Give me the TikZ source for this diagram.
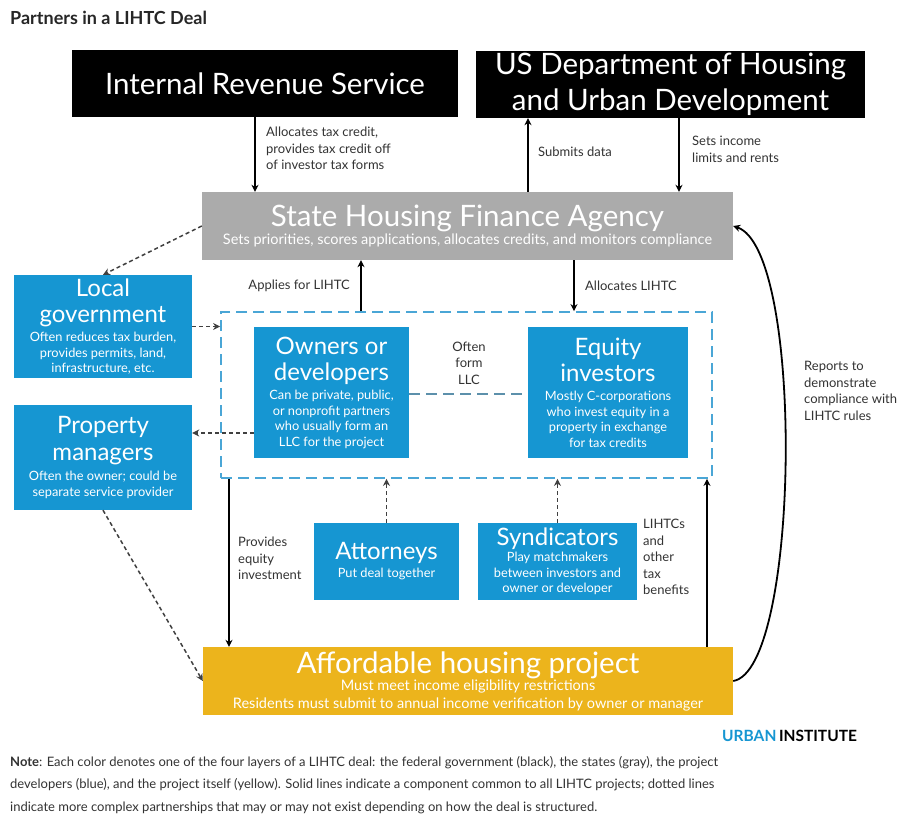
\documentclass[tikz,border=0pt]{standalone}
\usepackage{fontspec}
\setmainfont{Lato}
\usetikzlibrary{arrows.meta,calc}
\definecolor{urbanblue}{HTML}{1696D2}
\definecolor{stategray}{HTML}{ABABAB}
\definecolor{projyellow}{HTML}{ECB41C}
\definecolor{labelgray}{HTML}{333333}
\definecolor{llcblue}{HTML}{4AA6D6}
\newcommand{\bigtxt}{\fontsize{29.5}{36}\selectfont}
\newcommand{\midtxt}{\fontsize{24}{26.5}\selectfont}
\newcommand{\subtxt}{\fontsize{12.8}{15.5}\selectfont}
\newcommand{\widesub}{\fontsize{14.5}{18}\selectfont}
\newcommand{\lbltxt}{\fontsize{13}{16.5}\selectfont}
\tikzset{
>=Stealth,
box/.style={rectangle,inner sep=0pt,text=white,align=flush center},
fed/.style={box,fill=black},
state/.style={box,fill=stategray},
dev/.style={box,fill=urbanblue},
proj/.style={box,fill=projyellow},
lbl/.style={inner sep=0pt,text=labelgray,align=left,font=\lbltxt},
freccia/.style={->,line width=1.8pt,>={Stealth[length=7pt,width=7pt]}},
tratteggio/.style={->,line width=1.5pt,draw=black!75,dash pattern=on 4pt off 3pt,>={Stealth[length=7pt,width=7pt]}},
llcline/.style={line width=1.8pt,draw=llcblue,dash pattern=on 11pt off 6pt}}

\begin{document}
\begin{tikzpicture}[x=1pt,y=-1pt]
\useasboundingbox[fill=white] (0,0) rectangle (912,818);

% title
\node[anchor=base west,inner sep=0pt,text=black!85,font=\fontsize{18}{20}\selectfont\bfseries] (title) at (10,25) {Partners in a LIHTC Deal};

% federal and state level
\node[fed,minimum width=386pt,minimum height=67pt] (irs) at (265,83.5) {\bigtxt Internal Revenue Service};
\node[fed,minimum width=389pt,minimum height=67pt,text width=385pt] (hud) at (670.5,84.5) {\bigtxt US Department of Housing\\and Urban Development\par};
\node[state,minimum width=531pt,minimum height=68pt,text width=527pt] (hfa) at (467.5,226) {\bigtxt State Housing Finance Agency\par\widesub Sets priorities, scores applications, allocates credits, and monitors compliance\par};

% partners
\node[dev,minimum width=178pt,minimum height=103pt,text width=176pt] (localgov) at (103,326.5) {\midtxt Local\\government\par\vspace{3.5pt}\subtxt Often reduces tax burden,\\provides permits, land,\\infrastructure, etc.\par};
\node[dev,minimum width=178pt,minimum height=105pt,text width=176pt] (propmgr) at (103,457.5) {\midtxt Property\\managers\par\vspace{5pt}\subtxt Often the owner; could be\\separate service provider\par};
\node[draw=llcblue,llcline,minimum width=491pt,minimum height=166pt] (llc) at (466.5,395) {};
\node[dev,minimum width=155pt,minimum height=131pt,text width=153pt] (owners) at (331.5,392.5) {\midtxt Owners or\\developers\par\vspace{3.5pt}\subtxt Can be private, public,\\or nonprofit partners\\who usually form an\\LLC for the project\par};
\node[dev,minimum width=160pt,minimum height=131pt,text width=158pt] (equity) at (608,392.5) {\midtxt Equity\\investors\par\vspace{3.5pt}\subtxt Mostly C-corporations\\who invest equity in a\\property in exchange\\for tax credits\par};
\node[dev,minimum width=145pt,minimum height=77pt,text width=143pt] (attorneys) at (386.5,561.5) {\midtxt Attorneys\par\vspace{2.5pt}\subtxt Put deal together\par};
\node[dev,minimum width=159pt,minimum height=77pt,text width=157pt] (syndic) at (557.5,561.5) {\midtxt Syndicators\par\vspace{0.5pt}\subtxt Play matchmakers\\between investors and\\owner or developer\par};
\node[proj,minimum width=530pt,minimum height=68pt,text width=526pt] (project) at (468,681) {\bigtxt Affordable housing project\par\vspace{-1pt}\widesub Must meet income eligibility restrictions\\Residents must submit to annual income verification by owner or manager\par};

% solid links
\draw[freccia] (irs.south -| 255,0) -- (hfa.north -| 255,0);
\draw[freccia] (hfa.north -| 528,0) -- (hud.south -| 528,0);
\draw[freccia] (hud.south -| 679,0) -- (hfa.north -| 679,0);
\draw[freccia] (llc.north -| 361,0) -- (hfa.south -| 361,0);
\draw[freccia] (hfa.south -| 574,0) -- (llc.north -| 574,0);
\draw[freccia] (llc.south -| 229,0) -- (project.north -| 229,0);
\draw[freccia] (project.north -| 707,0) -- (llc.south -| 707,0);
\draw[freccia] (project.east) .. controls (800,670) and (805,250) .. (hfa.east);

% dashed links
\draw[tratteggio] (hfa.west) -- (localgov.north);
\draw[tratteggio] (localgov.east) -- (llc.west |- localgov.east);
\draw[tratteggio] (owners.west |- 0,433) -- (propmgr.east |- 0,433);
\draw[tratteggio] (propmgr.south) -- (project.west);
\draw[tratteggio] (attorneys.north) -- (attorneys.north |- llc.south);
\draw[tratteggio] (syndic.north) -- (syndic.north |- llc.south);
\draw[llcline,draw=llcblue!70!black!80] (owners.east |- 0,394) -- (equity.west |- 0,394);

% labels
\node[lbl,anchor=north west] (l1) at (266,127) {Allocates tax credit,\\provides tax credit off\\of investor tax forms};
\node[lbl,anchor=west] (l2) at (538,152) {Submits data};
\node[lbl,anchor=north west] (l3) at (692,136) {Sets income\\limits and rents};
\node[lbl,anchor=east] (l4) at (350,286) {Applies for LIHTC};
\node[lbl,anchor=west] (l5) at (585,286) {Allocates LIHTC};
\node[lbl,align=center] (l6) at (469,363) {Often\\form\\LLC};
\node[lbl,anchor=north west] (l7) at (238,537) {Provides\\equity\\investment};
\node[lbl,anchor=north west] (l8) at (643,519) {LIHTCs\\and\\other\\tax\\benefits};
\node[lbl,anchor=north west] (l9) at (804,361) {Reports to\\demonstrate\\compliance with\\LIHTC rules};

% footer
\node[anchor=base west,inner sep=0pt,font=\fontsize{15.5}{18}\bfseries] (logo) at (722,741) {\textcolor{urbanblue}{URBAN}\,INSTITUTE};
\node[anchor=north west,inner sep=0pt,align=left,text=labelgray,font=\fontsize{13}{22.5}\selectfont] (note) at (10,756) {\textbf{Note}: Each color denotes one of the four layers of a LIHTC deal: the federal government (black), the states (gray), the project\\developers (blue), and the project itself (yellow). Solid lines indicate a component common to all LIHTC projects; dotted lines\\indicate more complex partnerships that may or may not exist depending on how the deal is structured.};
\end{tikzpicture}
\end{document}
